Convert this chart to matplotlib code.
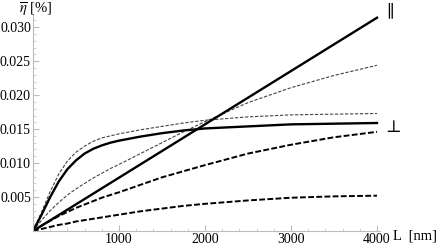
import numpy as np
import matplotlib.pyplot as plt

plt.rcParams["font.family"] = "Liberation Serif"
plt.rcParams["mathtext.fontset"] = "stix"

# === данные ===
L = [0, 100, 200, 300, 400, 500, 600, 700, 800, 900, 1000,
     1250, 1500, 1750, 2000, 2500, 3000, 3500, 4000]

L_par = [0, 4000]
eta_par = [0.0, 0.0314]

eta_perp = [0, 0.0024, 0.0050, 0.0073, 0.0091, 0.0104, 0.0114, 0.0121, 0.0126, 0.0130, 0.0133,
            0.0139, 0.0144, 0.0148, 0.0151, 0.0154, 0.0157, 0.0158, 0.0159]
thin_upper = [0, 0.0028, 0.0058, 0.0084, 0.0103, 0.0116, 0.0125, 0.0132, 0.0137, 0.0140, 0.0143,
              0.0149, 0.0154, 0.0159, 0.0163, 0.0168, 0.0171, 0.0172, 0.0173]
thin_mid = [0, 0.0016, 0.0030, 0.0042, 0.0053, 0.0062, 0.0070, 0.0078, 0.0085, 0.0092, 0.0098,
            0.0114, 0.0130, 0.0146, 0.0161, 0.0189, 0.0211, 0.0229, 0.0244]
dash_mid = [0, 0.0008, 0.0015, 0.0022, 0.0028, 0.0034, 0.0039, 0.0044, 0.0049, 0.0053, 0.0057,
            0.0068, 0.0079, 0.0088, 0.0097, 0.0114, 0.0127, 0.0138, 0.0146]
dash_low = [0, 0.0003, 0.0006, 0.0009, 0.0011, 0.0014, 0.0016, 0.0018, 0.0020, 0.0022, 0.0024,
            0.0029, 0.0033, 0.0037, 0.0040, 0.0045, 0.0049, 0.0051, 0.0052]

xticks = [1000, 2000, 3000, 4000]
yticks = [0.005, 0.010, 0.015, 0.020, 0.025, 0.030]

fig = plt.figure(figsize=(4.36, 2.5), dpi=100)
ax = fig.add_axes([33 / 436, 19 / 250, 347 / 436, 216 / 250])

ax.plot(L, thin_upper, color="#444444", lw=0.8, dashes=(3, 1.5))
ax.plot(L, thin_mid, color="#444444", lw=0.8, dashes=(3, 1.5))
ax.plot(L, dash_mid, color="black", lw=1.4, dashes=(3, 1.2))
ax.plot(L, dash_low, color="black", lw=1.4, dashes=(3, 1.2))
ax.plot(L, eta_perp, color="black", lw=1.7)
ax.plot(L_par, eta_par, color="black", lw=1.7)

ax.set_xlim(0, 4035)
ax.set_ylim(0, 0.0318)

for s in ["top", "right"]:
    ax.spines[s].set_visible(False)
for s in ["left", "bottom"]:
    ax.spines[s].set_color("#bbbbbb")
    ax.spines[s].set_linewidth(0.8)

ax.set_xticks(xticks)
ax.set_xticklabels([str(v) for v in xticks])
ax.set_yticks(yticks)
ax.set_yticklabels([f"{v:.3f}" for v in yticks])
ax.set_xticks(np.arange(200, 4035, 200), minor=True)
ax.set_yticks(np.arange(0.001, 0.0318, 0.001), minor=True)
ax.tick_params(which="major", direction="in", length=4, color="#bbbbbb", labelsize=10, pad=1.5)
ax.tick_params(which="minor", direction="in", length=2, color="#cccccc")

fig.text(393 / 436, 1 - 236 / 250, "L  [nm]", fontsize=10.5, va="center", ha="left")
fig.text(36 / 436, 1 - 10 / 250, r"$\overline{\eta}$ [%]", fontsize=10.5, va="center", ha="center")

ax.text(4110, 0.0322, "\u2225", fontsize=12, va="center", ha="left", clip_on=False,
        family=["DejaVu Serif", "DejaVu Sans"])
ax.text(4100, 0.0152, "\u22a5", fontsize=12, va="center", ha="left", clip_on=False,
        family=["DejaVu Serif", "DejaVu Sans"])

fig.savefig("out.png", dpi=100)
